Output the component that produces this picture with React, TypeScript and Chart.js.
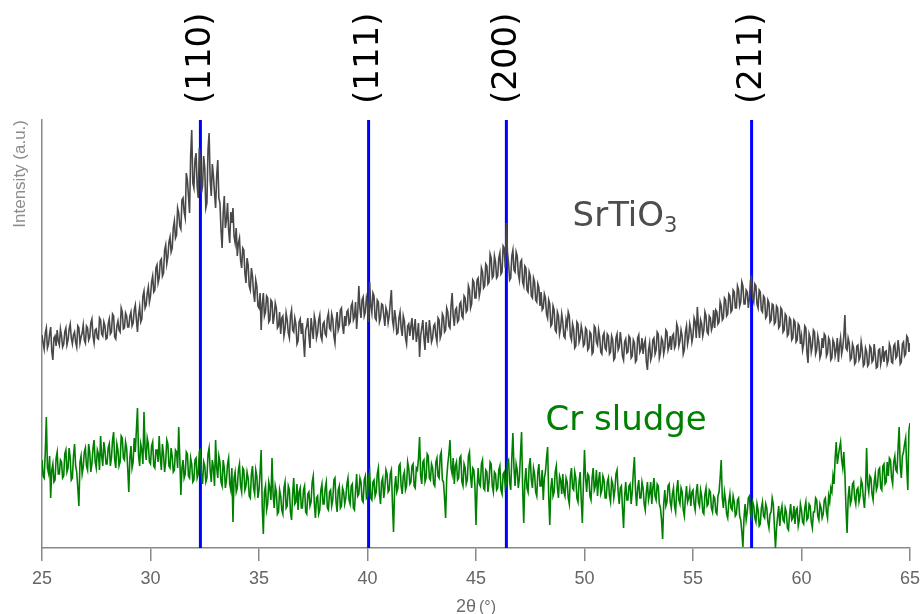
import { useEffect, useRef } from 'react';
import { Chart, registerables } from 'chart.js';

Chart.register(...registerables);

// 2θ sampling grid (degrees)
const START_2THETA = 25;
const STEP_2THETA = 0.05;

// Intensity (a.u.), one value per 0.05° from 25° to 65° (one row per degree)
const srtio3: number[] = [
  213,205,199,215,220,200,204,214,221,197,188,210,212,202,218,207,203,219,212,201,
  204,216,220,203,208,219,224,210,204,213,216,206,201,222,220,205,211,215,223,208,
  205,222,220,208,211,225,229,212,205,218,219,210,209,230,228,214,212,226,222,209,
  210,224,229,214,216,234,232,211,209,222,227,218,216,240,236,219,220,235,232,221,
  221,232,236,222,225,238,243,228,216,233,241,226,229,252,257,240,243,255,261,246,
  252,266,272,256,258,280,283,265,270,287,289,272,275,298,303,284,291,306,311,296,
  300,320,327,310,313,340,335,322,319,348,350,336,330,375,368,352,335,392,418,365,
  360,388,395,362,350,400,385,355,362,392,380,340,345,398,415,368,352,384,372,355,
  340,372,388,350,345,318,300,335,352,320,328,345,318,305,336,325,340,312,305,320,
  292,305,310,288,280,300,298,275,265,290,283,262,258,280,272,255,246,268,262,242,
  240,255,218,244,255,232,236,252,250,226,228,248,246,224,232,245,240,220,222,236,
  214,230,232,212,219,235,228,215,210,232,238,218,216,230,224,204,207,226,229,214,
  225,208,191,218,222,230,212,200,230,220,209,232,226,210,215,228,233,212,208,224,
  226,214,212,230,235,220,218,234,229,212,205,226,236,218,222,238,240,222,214,232,
  222,236,238,224,226,242,245,228,231,246,219,236,262,240,230,248,251,232,236,250,
  244,226,266,242,235,255,252,230,228,248,246,226,230,244,243,232,222,240,236,225,
  232,246,258,228,221,238,230,214,215,230,236,220,212,232,227,210,204,222,224,212,
  222,230,208,220,229,206,214,225,191,212,220,228,210,198,226,214,205,228,219,206,
  210,222,224,212,206,230,228,210,214,234,231,216,218,240,236,222,220,242,255,232,
  222,238,240,226,228,244,246,232,230,252,250,236,238,262,258,240,244,268,266,250,
  250,268,270,252,258,280,276,260,262,284,282,264,266,294,290,270,272,292,286,270,
  272,290,295,274,276,302,300,280,325,296,285,268,270,292,298,278,276,296,292,274,
  268,286,288,266,262,282,280,258,256,276,272,252,250,270,266,248,246,264,260,242,
  256,238,240,254,250,234,230,248,244,222,224,242,238,218,216,236,232,214,220,234,
  226,212,210,228,222,236,232,212,208,224,219,200,202,226,224,206,210,222,216,202,
  204,220,218,198,200,216,214,194,196,222,220,206,203,218,211,196,194,212,215,200,
  198,214,212,194,196,212,208,188,190,210,214,198,201,216,206,192,188,206,209,195,
  196,212,210,190,192,208,205,186,188,210,213,196,199,210,194,204,208,186,178,198,
  205,188,192,208,210,194,198,216,214,190,195,210,207,194,200,218,216,198,202,212,
  198,212,214,200,203,224,220,202,207,218,212,194,198,216,222,204,210,224,218,206,
  212,230,226,210,241,222,210,228,224,212,218,236,232,216,214,232,230,218,222,238,
  220,238,236,224,226,246,242,228,230,250,248,232,234,254,252,236,238,258,256,240,
  240,262,258,242,246,266,262,244,244,258,256,240,250,268,271,250,246,264,262,244,
  240,258,256,238,236,252,250,230,232,248,245,226,228,244,243,224,226,242,240,220,
  222,240,238,216,218,234,232,212,214,230,228,208,210,228,226,206,208,224,222,204,
  212,198,204,222,220,196,185,214,210,196,202,218,216,194,198,212,206,190,194,210,
  200,214,212,192,195,210,207,188,190,208,205,192,198,210,186,202,210,194,200,212,
  233,200,198,210,205,188,190,204,200,184,186,202,203,188,191,206,198,182,184,200,
  196,182,184,202,200,186,188,204,193,180,181,198,199,184,190,202,186,196,197,184,
  188,204,200,186,185,202,204,190,192,208,198,184,186,204,206,192,194,212,210,196,
  205,
];

const crSludge: number[] = [
  88,72,70,95,131,80,75,92,50,78,84,66,68,90,96,74,74,88,86,70,
  72,94,98,76,80,100,90,68,70,92,104,82,76,60,42,86,92,74,81,96,
  100,82,78,104,96,76,84,100,108,86,80,98,94,78,112,92,82,106,98,84,
  84,100,104,82,90,108,116,88,80,104,98,82,86,112,110,90,88,106,100,80,
  56,90,102,80,86,110,96,118,140,92,82,104,98,84,136,100,88,110,104,86,
  84,102,106,82,80,98,98,86,112,90,78,104,94,76,86,108,104,82,80,100,
  92,76,78,98,96,80,121,90,53,80,88,70,74,96,94,72,70,90,84,66,
  68,88,90,70,74,96,98,72,64,86,82,66,70,94,100,78,66,88,80,62,
  108,80,70,92,86,66,62,88,80,60,68,84,90,64,58,80,26,70,76,56,
  60,78,84,62,56,80,78,58,62,76,70,52,50,74,82,60,54,78,72,50,
  58,76,98,40,14,56,62,38,44,66,60,48,90,54,40,62,56,34,36,58,
  52,38,34,60,66,40,42,62,58,36,28,54,70,44,46,64,38,56,60,40,
  40,58,62,36,34,54,56,42,46,66,72,44,30,50,52,34,38,58,64,44,
  44,60,66,40,38,56,58,42,48,68,70,46,36,58,62,40,42,60,56,44,
  50,64,70,48,44,62,64,40,38,58,74,52,54,70,66,48,46,68,72,50,
  52,70,76,50,48,66,68,52,56,74,80,54,44,66,70,50,60,78,74,56,
  58,74,78,44,16,60,72,56,60,82,84,62,54,72,76,58,62,86,80,64,
  66,82,84,62,60,80,78,90,111,72,64,86,88,66,70,94,92,70,68,84,
  80,64,62,86,90,72,70,92,96,68,66,50,30,70,84,94,108,80,74,90,
  64,82,86,68,70,90,92,66,62,84,80,64,68,92,96,72,60,80,78,62,
  23,60,80,64,62,84,88,60,58,78,76,56,66,86,84,62,56,76,74,58,
  60,78,82,58,54,74,76,60,64,86,88,66,58,90,115,80,62,84,78,60,
  70,94,116,60,25,66,80,60,56,82,90,68,60,80,74,56,52,76,84,62,
  62,78,48,70,76,90,101,52,23,60,70,52,56,76,82,60,50,72,68,54,
  74,56,52,70,66,50,44,72,80,60,58,76,70,50,46,66,76,48,25,64,
  98,70,56,74,72,52,48,70,80,58,62,78,52,68,76,54,58,72,68,50,
  50,66,70,52,46,68,64,50,58,74,78,56,44,60,62,40,20,52,66,48,
  48,62,64,44,56,76,91,58,42,60,68,50,50,66,60,44,38,56,66,48,
  54,66,44,60,70,52,48,64,62,44,40,28,9,44,58,42,46,62,64,46,
  40,54,60,42,36,58,68,48,44,60,56,38,32,50,62,46,50,58,42,56,
  58,44,38,56,64,46,42,58,52,36,34,54,60,42,44,58,56,40,36,52,
  50,36,34,52,56,70,88,50,40,56,48,34,30,46,54,40,38,52,46,32,
  34,48,50,32,28,16,1,30,44,28,36,50,52,34,30,46,42,30,26,44,
  38,22,24,40,46,32,30,44,40,26,20,34,36,50,44,22,0,20,32,42,
  22,36,42,28,26,40,36,20,18,34,44,28,30,42,24,38,40,22,28,44,
  38,26,24,40,46,28,30,44,42,26,20,36,36,50,48,32,28,44,40,30,
  34,48,50,36,30,52,46,60,56,72,64,90,106,84,92,100,106,88,80,96,
  74,40,15,50,62,44,48,64,66,50,44,58,60,46,52,68,64,50,40,58,
  100,64,56,72,70,54,48,66,74,58,62,78,80,60,58,82,84,64,66,86,
  72,90,88,70,64,86,92,78,76,100,121,82,70,92,96,104,110,80,58,118,
  125,
];

// Reference reflections of SrTiO3
const peakPositions = [32.3, 40.05, 46.4, 57.7];
const peakLabels = ['(110)', '(111)', '(200)', '(211)'];

// Axis range and titles
const X_MIN = 25;
const X_MAX = 65;
const X_STEP = 5;
const Y_MIN = 0;
const Y_MAX = 428;
const X_TITLE_MAIN = '2θ';
const X_TITLE_UNIT = '(°)';
const Y_TITLE = 'Intensity (a.u.)';

// In-plot series labels (name, subscript, anchor in data units, colour)
const seriesLabels = [
  { main: 'SrTiO', sub: '3', x: 49.45, y: 322, color: '#4d4d4d' },
  { main: 'Cr sludge', sub: '', x: 48.2, y: 118, color: '#008000' },
];

const toPoints = (arr: number[]) =>
  arr.map((v, i) => ({ x: +(START_2THETA + i * STEP_2THETA).toFixed(2), y: v }));

const overlayPlugin = {
  id: 'xrdOverlay',
  afterDraw(chart: any) {
    const { ctx, scales, chartArea } = chart;
    const xs = scales.x;
    const ys = scales.y;
    ctx.save();
    // hkl labels above the reference lines
    ctx.fillStyle = '#000000';
    ctx.font = '34px "DejaVu Sans"';
    ctx.textAlign = 'left';
    ctx.textBaseline = 'middle';
    peakPositions.forEach((p, i) => {
      const px = xs.getPixelForValue(p);
      ctx.save();
      ctx.translate(px + 1, 104);
      ctx.rotate(-Math.PI / 2);
      ctx.fillText(peakLabels[i], 0, 0);
      ctx.restore();
    });
    // series names
    seriesLabels.forEach((l) => {
      const px = xs.getPixelForValue(l.x);
      const py = ys.getPixelForValue(l.y);
      ctx.fillStyle = l.color;
      ctx.textAlign = 'left';
      ctx.textBaseline = 'alphabetic';
      ctx.font = '34px "DejaVu Sans"';
      ctx.fillText(l.main, px, py);
      if (l.sub) {
        const w = ctx.measureText(l.main).width;
        ctx.font = '21px "DejaVu Sans"';
        ctx.fillText(l.sub, px + w, py + 6);
      }
    });
    // x-axis title with a smaller unit
    const cx = (chartArea.left + chartArea.right) / 2;
    ctx.fillStyle = '#6e6e6e';
    ctx.textBaseline = 'alphabetic';
    ctx.font = '18px "Liberation Sans"';
    const wMain = ctx.measureText(X_TITLE_MAIN).width;
    ctx.font = '16px "Liberation Sans"';
    const wUnit = ctx.measureText(X_TITLE_UNIT).width;
    const gap = 3;
    const startX = cx - (wMain + gap + wUnit) / 2;
    ctx.textAlign = 'left';
    ctx.font = '18px "Liberation Sans"';
    ctx.fillText(X_TITLE_MAIN, startX, 612);
    ctx.font = '16px "Liberation Sans"';
    ctx.fillText(X_TITLE_UNIT, startX + wMain + gap, 612);
    ctx.restore();
  },
};

export default function App() {
  const canvasRef = useRef<HTMLCanvasElement | null>(null);

  useEffect(() => {
    const canvas = canvasRef.current;
    if (!canvas) return;
    const peakDatasets = peakPositions.map((p) => ({
      label: `peak ${p}`,
      data: [
        { x: p, y: Y_MIN },
        { x: p, y: Y_MAX },
      ],
      borderColor: '#0000ff',
      borderWidth: 3,
      pointRadius: 0,
      fill: false,
    }));
    const chart = new Chart(canvas, {
      type: 'line',
      data: {
        datasets: [
          {
            label: 'SrTiO3',
            data: toPoints(srtio3),
            borderColor: '#484848',
            borderWidth: 1.6,
            pointRadius: 0,
            fill: false,
            tension: 0,
          },
          {
            label: 'Cr sludge',
            data: toPoints(crSludge),
            borderColor: '#008000',
            borderWidth: 1.6,
            pointRadius: 0,
            fill: false,
            tension: 0,
          },
          ...peakDatasets,
        ],
      },
      options: {
        responsive: false,
        animation: false,
        events: [],
        layout: { padding: { top: 120, right: 10, left: 0, bottom: 0 } },
        plugins: {
          legend: { display: false },
          tooltip: { enabled: false },
        },
        scales: {
          x: {
            type: 'linear',
            min: X_MIN,
            max: X_MAX,
            afterFit: (s: any) => {
              s.height = 66;
              s.paddingLeft = 0;
              s.paddingRight = 0;
            },
            ticks: {
              stepSize: X_STEP,
              color: '#666666',
              font: { size: 18, family: '"Liberation Sans", Arial, sans-serif' },
              padding: 7,
              maxRotation: 0,
            },
            grid: {
              drawOnChartArea: false,
              drawTicks: true,
              tickLength: 13,
              color: '#888888',
              lineWidth: 1.5,
            },
            border: { display: true, color: '#888888', width: 1.5 },
            title: { display: false },
          },
          y: {
            type: 'linear',
            min: Y_MIN,
            max: Y_MAX,
            afterFit: (s: any) => {
              s.width = 42;
            },
            ticks: { display: false },
            grid: { display: true, drawOnChartArea: false, drawTicks: false },
            border: { display: true, color: '#888888', width: 1.5 },
            title: {
              display: true,
              text: Y_TITLE,
              align: 'end',
              color: '#8c8c8c',
              font: { size: 17, family: '"Liberation Sans", Arial, sans-serif' },
              padding: { top: 10, bottom: 0 },
            },
          },
        },
      },
      plugins: [overlayPlugin],
    });
    return () => chart.destroy();
  }, []);

  return (
    <div style={{ position: 'fixed', left: 0, top: 0, width: 920, height: 614, background: '#ffffff' }}>
      <canvas ref={canvasRef} width={920} height={614} />
    </div>
  );
}
